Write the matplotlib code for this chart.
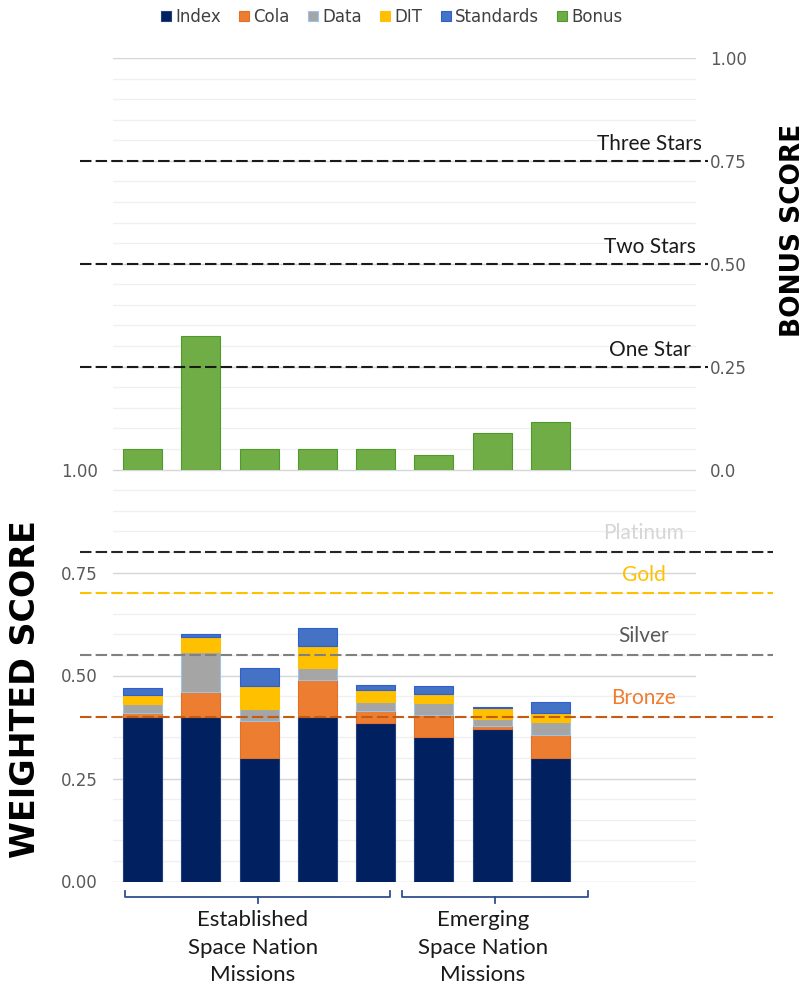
import numpy as np
import matplotlib
matplotlib.use("Agg")
import matplotlib.pyplot as plt

# weighted score components per mission (8 missions, 10 slots on the axis)
index_vals = [0.40, 0.40, 0.30, 0.40, 0.385, 0.35, 0.37, 0.30]
cola_vals = [0.010, 0.060, 0.090, 0.090, 0.030, 0.055, 0.007, 0.056]
data_vals = [0.021, 0.098, 0.029, 0.028, 0.020, 0.029, 0.018, 0.030]
dit_vals = [0.022, 0.036, 0.055, 0.054, 0.029, 0.021, 0.025, 0.023]
standards_vals = [0.016, 0.006, 0.045, 0.044, 0.012, 0.020, 0.004, 0.026]
bonus_vals = [0.05, 0.325, 0.05, 0.05, 0.05, 0.035, 0.0875, 0.115]
n_slots = 10

series_names = ["Index", "Cola", "Data", "DIT", "Standards"]
series_colors = ["#002060", "#ed7d31", "#a5a5a5", "#ffc000", "#4472c4"]
series_edges = ["#1f3f7f", "#e0702a", "#9dc3e6", "#ffc000", "#2f5fd0"]

medal_names = ["Platinum", "Gold", "Silver", "Bronze"]
medal_levels = [0.80, 0.70, 0.55, 0.40]
medal_text_colors = ["#d6d6d6", "#ffc000", "#595959", "#ed7d31"]
medal_line_colors = ["#262626", "#ffc000", "#808080", "#c55a11"]

star_names = ["Three Stars", "Two Stars", "One Star"]
star_levels = [0.75, 0.50, 0.25]

left_ticks = [0.0, 0.25, 0.5, 0.75, 1.0]
left_ticklabels = ["0.00", "0.25", "0.50", "0.75", "1.00"]
right_ticklabels = ["0.0", "0.25", "0.50", "0.75", "1.00"]

groups = ["Established\nSpace Nation\nMissions", "Emerging\nSpace Nation\nMissions"]
group_spans = [(-0.3, 4.25), (4.45, 7.65)]
group_tips = [1.98, 6.05]
group_text_x = [1.89, 5.84]

W, H = 807, 991
fig = plt.figure(figsize=(W / 100, H / 100), dpi=100)


def px_rect(x0, y0, x1, y1):
    return [x0 / W, 1 - y1 / H, (x1 - x0) / W, (y1 - y0) / H]


ax = fig.add_axes(px_rect(113.3, 469.5, 696.3, 881.5))
axb = fig.add_axes(px_rect(113.3, 58, 696.3, 469.5))

x = np.arange(len(index_vals))
width = 0.67
label_font = "Lato"

for a in (ax, axb):
    a.set_xlim(-0.5, n_slots - 0.5)
    a.set_ylim(0, 1)
    a.set_xticks([])
    a.set_yticks(np.arange(0, 1.001, 0.05), minor=True)
    a.grid(which="minor", axis="y", color="#f0f0f0", linewidth=1.0)
    a.grid(which="major", axis="y", color="#d6d6d6", linewidth=1.0)
    a.set_axisbelow(True)
    for s in a.spines.values():
        s.set_visible(False)
    a.tick_params(which="both", length=0, labelsize=12, labelcolor="#595959")

# stacked weighted score
ax.set_yticks(left_ticks)
ax.set_yticklabels(left_ticklabels)
ax.tick_params(axis="y", pad=11)
handles = []
bottom = np.zeros(len(x))
for vals, name, col, ec in zip([index_vals, cola_vals, data_vals, dit_vals, standards_vals],
                               series_names, series_colors, series_edges):
    b = ax.bar(x, vals, width, bottom=bottom, color=col, edgecolor=ec,
               linewidth=0.8, label=name, zorder=2)
    handles.append(b)
    bottom += np.array(vals)

# bonus bars on top
axb.yaxis.tick_right()
axb.set_yticks(left_ticks)
axb.set_yticklabels(right_ticklabels)
axb.tick_params(axis="y", pad=10)
hb = axb.bar(x, bonus_vals, width, color="#70ad47", edgecolor="#4f9a2c",
             linewidth=0.8, label="Bonus", zorder=2)
handles.append(hb)

# medal thresholds
for name, lvl, tc, lc in zip(medal_names, medal_levels, medal_text_colors, medal_line_colors):
    ax.axhline(lvl, xmin=-0.057, xmax=1.132, color=lc, linestyle=(0, (5.5, 2)),
               linewidth=1.5, clip_on=False, zorder=3)
    ax.text(8.6, lvl + 0.045, name, color=tc, fontsize=15, family=label_font,
            ha="center", va="center", zorder=4)

# star thresholds
for name, lvl in zip(star_names, star_levels):
    axb.axhline(lvl, xmin=-0.057, xmax=1.02, color="#1a1a1a", linestyle=(0, (5.5, 2)),
                linewidth=1.5, clip_on=False, zorder=3)
    axb.text(8.7, lvl + 0.04, name, color="#1a1a1a", fontsize=15, family=label_font,
             ha="center", va="center", zorder=4)

# group brackets under the bars
for (x0, x1), tip, tx, label in zip(group_spans, group_tips, group_text_x, groups):
    ax.plot([x0, x0, x1, x1], [-0.022, -0.037, -0.037, -0.022], color="#2f4f8f",
            linewidth=1.3, clip_on=False, solid_joinstyle="round")
    ax.plot([tip, tip], [-0.037, -0.052], color="#2f4f8f", linewidth=1.3, clip_on=False)
    ax.text(tx, -0.07, label, ha="center", va="top", fontsize=16, family=label_font,
            color="#1a1a1a", linespacing=1.45)

fig.text(26 / W, 1 - 689 / H, "WEIGHTED SCORE", rotation=90, ha="center", va="center",
         fontsize=24, fontweight="bold", color="black")
fig.text(793 / W, 1 - 230 / H, "BONUS SCORE", rotation=90, ha="center", va="center",
         fontsize=19, fontweight="bold", color="black")

fig.legend(handles, series_names + ["Bonus"], loc="upper center",
           bbox_to_anchor=(392 / W, 1 + 2 / H), ncol=6, frameon=False, fontsize=12,
           handlelength=0.6, handleheight=0.6, handletextpad=0.25, columnspacing=1.1,
           labelcolor="#404040", borderaxespad=0.2)

fig.savefig("out.png", dpi=100, facecolor="white")
